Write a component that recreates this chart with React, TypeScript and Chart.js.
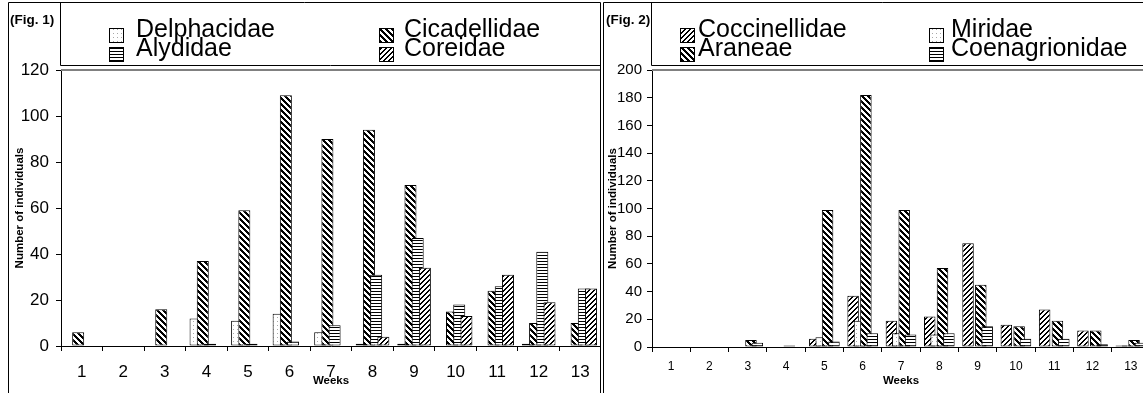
import React, { useEffect, useRef } from 'react';
import { Chart, registerables } from 'chart.js';

Chart.register(...registerables);

// ---------- data ----------
const weeks = ['1', '2', '3', '4', '5', '6', '7', '8', '9', '10', '11', '12', '13'];

const fig1Delphacidae = [0, 0, 0, 12, 11, 14, 6, 1, 1, 0, 0, 1, 0];
const fig1Cicadellidae = [6, 0, 16, 37, 59, 109, 90, 94, 70, 15, 24, 10, 10];
const fig1Alydidae = [0, 0, 0, 1, 1, 2, 9, 31, 47, 18, 26, 41, 25];
const fig1Coreidae = [0, 0, 0, 0, 0, 0, 0, 4, 34, 13, 31, 19, 25];

const fig2Coccinellidae = [0, 0, 0, 0, 6, 37, 19, 22, 75, 16, 27, 12, 1];
const fig2Miridae = [0, 0, 0, 0, 7, 19, 10, 9, 0, 0, 0, 0, 1];
const fig2Araneae = [0, 0, 5, 1, 99, 182, 99, 57, 45, 15, 19, 12, 5];
const fig2Coenagrionidae = [0, 0, 3, 0, 4, 10, 9, 10, 15, 6, 6, 2, 3];

const fig1YMax = 120;
const fig2YMax = 200;
const yStep = 20;

const FONT = '"Liberation Sans", Arial, Helvetica, sans-serif';

// ---------- patterns ----------
type Kind = 'dots' | 'back' | 'horiz' | 'fwd';

function makePattern(kind: Kind): CanvasPattern {
  const c = document.createElement('canvas');
  let w = 6;
  let h = 6;
  if (kind === 'dots') { w = 4; h = 4; }
  if (kind === 'horiz') { w = 4; h = 3; }
  if (kind === 'fwd') { w = 5; h = 5; }
  c.width = w;
  c.height = h;
  const ctx = c.getContext('2d')!;
  ctx.fillStyle = '#ffffff';
  ctx.fillRect(0, 0, w, h);
  for (let y = 0; y < h; y++) {
    for (let x = 0; x < w; x++) {
      let on = false;
      let col = '#000000';
      if (kind === 'dots') { on = x === 1 && y === 1; col = '#a8a8a8'; }
      if (kind === 'back') on = ((x - y) % 6 + 6) % 6 < 3;
      if (kind === 'horiz') on = y === 0;
      if (kind === 'fwd') on = (x + y) % 5 < 2;
      if (on) {
        ctx.fillStyle = col;
        ctx.fillRect(x, y, 1, 1);
      }
    }
  }
  return ctx.createPattern(c, 'repeat')!;
}

// draw datasets so that later series sit on top of earlier ones (Excel overlap look)
const forwardOrder = {
  id: 'forwardOrder',
  beforeDatasetsDraw(chart: any) {
    const metas = chart.getSortedVisibleDatasetMetas();
    for (const meta of metas) chart._drawDataset(meta);
    return false;
  },
};

interface LegendItem { label: string; kind: Kind; sx: number; tx: number; row: number; }

interface PanelSpec {
  figLabel: string;
  width: number;
  height: number;
  yMax: number;
  yAxisWidth: number;
  xAxisHeight: number;
  rightPad: number;
  yTickSize: number;
  yTickPad: number;
  xTickSize: number;
  xTickPad: number;
  yTitlePad: number;
  xTitlePad: number;
  catPct: number;
  barPct: number;
  legendLeft: number;
  frameRight: number | null;
  figLabelX: number;
  legendItems: LegendItem[];
  series: { label: string; kind: Kind; data: number[] }[];
}

function buildChart(canvas: HTMLCanvasElement, p: PanelSpec): Chart {
  const patterns: Record<Kind, CanvasPattern> = {
    dots: makePattern('dots'),
    back: makePattern('back'),
    horiz: makePattern('horiz'),
    fwd: makePattern('fwd'),
  };

  const frame = {
    id: 'frame',
    afterDraw(chart: any) {
      const ctx: CanvasRenderingContext2D = chart.ctx;
      const ca = chart.chartArea;
      ctx.save();
      // plot area top border
      ctx.strokeStyle = '#808080';
      ctx.lineWidth = 2;
      ctx.beginPath();
      ctx.moveTo(ca.left, ca.top);
      ctx.lineTo(ca.right, ca.top);
      ctx.stroke();

      ctx.strokeStyle = '#000';
      ctx.lineWidth = 1;
      // outer frame
      ctx.beginPath();
      ctx.moveTo(0.5, p.height + 5);
      ctx.lineTo(0.5, 2.5);
      ctx.lineTo(p.frameRight !== null ? p.frameRight : p.width + 5, 2.5);
      if (p.frameRight !== null) ctx.lineTo(p.frameRight, p.height + 5);
      ctx.stroke();
      // legend box
      ctx.beginPath();
      ctx.moveTo(p.legendLeft, 2.5);
      ctx.lineTo(p.legendLeft, 65.5);
      ctx.lineTo(p.frameRight !== null ? p.frameRight : p.width + 5, 65.5);
      ctx.stroke();

      // fig label
      ctx.fillStyle = '#000';
      ctx.font = `bold 13.5px ${FONT}`;
      ctx.textBaseline = 'alphabetic';
      ctx.textAlign = 'left';
      ctx.fillText(p.figLabel, p.figLabelX, 24);

      // legend entries
      ctx.font = `25px ${FONT}`;
      for (const it of p.legendItems) {
        const sy = it.row === 0 ? 28 : 47;
        ctx.fillStyle = patterns[it.kind];
        ctx.fillRect(it.sx, sy, 14, 14);
        ctx.strokeStyle = '#000';
        ctx.lineWidth = 1;
        ctx.strokeRect(it.sx + 0.5, sy + 0.5, 14, 14);
        ctx.fillStyle = '#000';
        ctx.fillText(it.label, it.tx, it.row === 0 ? 37 : 56);
      }
      ctx.restore();
    },
  };

  return new Chart(canvas, {
    type: 'bar',
    data: {
      labels: weeks,
      datasets: p.series.map((s) => ({
        label: s.label,
        data: s.data,
        backgroundColor: patterns[s.kind],
        borderColor: '#000',
        borderWidth: 1,
        borderSkipped: false,
        categoryPercentage: p.catPct,
        barPercentage: p.barPct,
      })),
    },
    options: {
      animation: false,
      responsive: false,
      maintainAspectRatio: false,
      layout: { padding: { top: 70, left: 0, right: p.rightPad, bottom: 0 } },
      plugins: { legend: { display: false }, tooltip: { enabled: false }, title: { display: false } },
      scales: {
        x: {
          grid: { display: true, drawOnChartArea: false, drawTicks: true, tickLength: 5, color: '#000', offset: true },
          border: { display: true, color: '#000', width: 1 },
          ticks: { color: '#000', font: { family: FONT, size: p.xTickSize }, padding: p.xTickPad, maxRotation: 0, autoSkip: false },
          title: { display: true, text: 'Weeks', color: '#000', font: { family: FONT, size: 11.5, weight: 'bold' }, padding: { top: 0, bottom: p.xTitlePad } },
          afterFit: (s: any) => { s.height = p.xAxisHeight; },
        },
        y: {
          min: 0,
          max: p.yMax,
          grid: { display: true, drawOnChartArea: false, drawTicks: true, tickLength: 5, color: '#000' },
          border: { display: true, color: '#000', width: 1 },
          ticks: { stepSize: yStep, color: '#000', font: { family: FONT, size: p.yTickSize }, padding: p.yTickPad },
          title: { display: true, text: 'Number of individuals', color: '#000', font: { family: FONT, size: 11.5, weight: 'bold' }, padding: { top: p.yTitlePad, bottom: 0 } },
          afterFit: (s: any) => { s.width = p.yAxisWidth; },
        },
      },
    } as any,
    plugins: [forwardOrder, frame],
  });
}

const panel1: PanelSpec = {
  figLabel: '(Fig. 1)',
  width: 593,
  height: 400,
  yMax: fig1YMax,
  yAxisWidth: 53,
  xAxisHeight: 54,
  rightPad: 0,
  yTickSize: 17,
  yTickPad: 7,
  xTickSize: 17,
  xTickPad: 11,
  yTitlePad: 5,
  xTitlePad: 12,
  catPct: 0.694,
  barPct: 1.667,
  legendLeft: 52.5,
  frameRight: 592.5,
  figLabelX: 2,
  legendItems: [
    { label: 'Delphacidae', kind: 'dots', sx: 101, tx: 128, row: 0 },
    { label: 'Cicadellidae', kind: 'back', sx: 371, tx: 396, row: 0 },
    { label: 'Alydidae', kind: 'horiz', sx: 101, tx: 128, row: 1 },
    { label: 'Coreidae', kind: 'fwd', sx: 371, tx: 396, row: 1 },
  ],
  series: [
    { label: 'Delphacidae', kind: 'dots', data: fig1Delphacidae },
    { label: 'Cicadellidae', kind: 'back', data: fig1Cicadellidae },
    { label: 'Alydidae', kind: 'horiz', data: fig1Alydidae },
    { label: 'Coreidae', kind: 'fwd', data: fig1Coreidae },
  ],
};

const panel2: PanelSpec = {
  figLabel: '(Fig. 2)',
  width: 557,
  height: 400,
  yMax: fig2YMax,
  yAxisWidth: 49,
  xAxisHeight: 53,
  rightPad: 10,
  yTickSize: 15,
  yTickPad: 5,
  xTickSize: 12,
  xTickPad: 7,
  yTitlePad: 3,
  xTitlePad: 12,
  catPct: 0.667,
  barPct: 1.8,
  legendLeft: 48.5,
  frameRight: null,
  figLabelX: 3,
  legendItems: [
    { label: 'Coccinellidae', kind: 'fwd', sx: 77, tx: 95, row: 0 },
    { label: 'Miridae', kind: 'dots', sx: 326, tx: 348, row: 0 },
    { label: 'Araneae', kind: 'back', sx: 77, tx: 95, row: 1 },
    { label: 'Coenagrionidae', kind: 'horiz', sx: 326, tx: 348, row: 1 },
  ],
  series: [
    { label: 'Coccinellidae', kind: 'fwd', data: fig2Coccinellidae },
    { label: 'Miridae', kind: 'dots', data: fig2Miridae },
    { label: 'Araneae', kind: 'back', data: fig2Araneae },
    { label: 'Coenagrionidae', kind: 'horiz', data: fig2Coenagrionidae },
  ],
};

function Panel({ spec, left }: { spec: PanelSpec; left: number }) {
  const ref = useRef<HTMLCanvasElement>(null);
  useEffect(() => {
    if (!ref.current) return;
    const chart = buildChart(ref.current, spec);
    return () => chart.destroy();
  }, [spec]);
  return (
    <canvas
      ref={ref}
      width={spec.width}
      height={spec.height}
      style={{ position: 'absolute', left, top: 0, width: spec.width, height: spec.height }}
    />
  );
}

export default function App() {
  return (
    <div
      style={{
        position: 'absolute',
        left: 0,
        top: 0,
        width: 1143,
        height: 393,
        overflow: 'hidden',
        background: '#fff',
      }}
    >
      <Panel spec={panel1} left={8} />
      <Panel spec={panel2} left={603} />
    </div>
  );
}
